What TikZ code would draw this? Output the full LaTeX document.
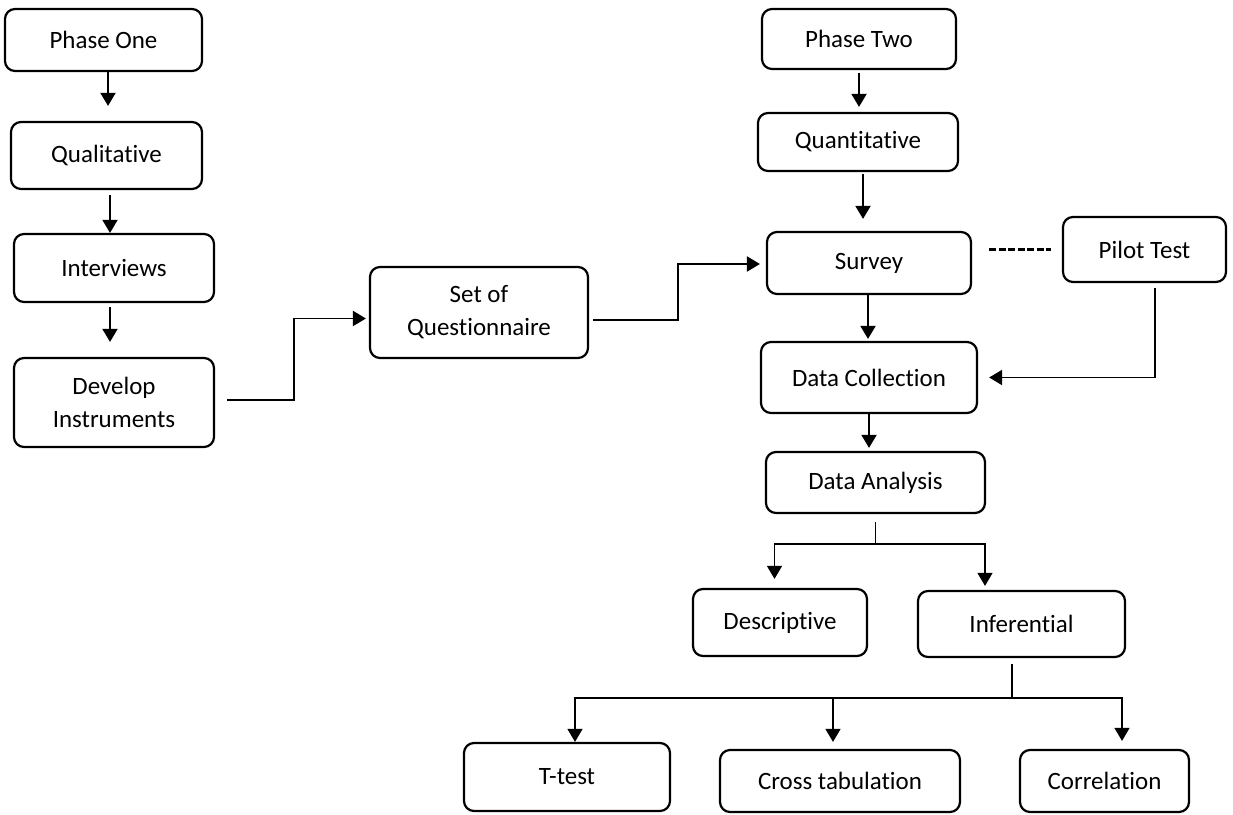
\documentclass[tikz,border=0pt]{standalone}
\usepackage{fontspec}
\setmainfont{Carlito}[Ligatures=NoCommon]
\usepackage{tikz}
\usetikzlibrary{arrows.meta}

\begin{document}
\begin{tikzpicture}[
		box/.style={draw, rounded corners=0.2cm, line width=1.25pt, align=center, inner sep=0pt, font=\fontsize{14.2}{18.8}\selectfont},
		arr/.style={line width=1.1pt, -{Triangle[length=0.26cm,width=0.3cm]}},
		thinarr/.style={arr, line width=0.7pt},
		thinline/.style={line width=0.7pt}
	]
				\useasboundingbox (0,0) rectangle (24.66,16.28);
				
				% Nodes, phase one
				\node[box, minimum width=3.94cm, minimum height=1.24cm] (ph1) at (2.07,15.48) {Phase One};
				\node[box, minimum width=3.82cm, minimum height=1.34cm] (ql) at (2.13,13.17) {Qualitative};
				\node[box, minimum width=4.00cm, minimum height=1.36cm] (iv) at (2.28,10.92) {Interviews};
				\node[box, minimum width=4.00cm, minimum height=1.78cm] (di) at (2.28,8.23) {Develop\\Instruments};
				\node[box, minimum width=4.36cm, minimum height=1.82cm] (sq) at (9.58,10.03) {Set of\\Questionnaire};
				
				% Nodes, phase two
				\node[box, minimum width=3.88cm, minimum height=1.20cm] (ph2) at (17.18,15.50) {Phase Two};
				\node[box, minimum width=4.00cm, minimum height=1.16cm] (qn) at (17.16,13.44) {Quantitative};
				\node[box, minimum width=4.08cm, minimum height=1.24cm] (sv) at (17.38,11.02) {Survey};
				\node[box, minimum width=3.26cm, minimum height=1.30cm] (pt) at (22.89,11.29) {Pilot Test};
				\node[box, minimum width=4.32cm, minimum height=1.42cm] (dc) at (17.38,8.73) {Data Collection};
				\node[box, minimum width=4.38cm, minimum height=1.22cm] (da) at (17.51,6.63) {Data Analysis};
				\node[box, minimum width=3.48cm, minimum height=1.34cm] (ds) at (15.60,3.83) {Descriptive};
				\node[box, minimum width=4.14cm, minimum height=1.32cm] (inf) at (20.43,3.80) {Inferential};
				\node[box, minimum width=4.12cm, minimum height=1.36cm] (tt) at (11.34,0.74) {T-test};
				\node[box, minimum width=4.80cm, minimum height=1.24cm] (ct) at (16.80,0.66) {Cross tabulation};
				\node[box, minimum width=3.38cm, minimum height=1.24cm] (cr) at (22.09,0.66) {Correlation};
				
				% Arrows, phase one
				\draw[arr] ([xshift=.09cm]ph1.south) -- ([xshift=.03cm,yshift=.3cm]ql.north);
				\draw[arr] ([xshift=.07cm,yshift=-.1cm]ql.south) -- ([xshift=-.08cm]iv.north);
				\draw[arr] ([xshift=-.08cm,yshift=-.08cm]iv.south) -- ([xshift=-.08cm,yshift=.3cm]di.north);
				\draw[arr] ([xshift=.24cm,yshift=.05cm]di.east) -- ++(1.34,0) |- ([xshift=-.06cm,yshift=-.12cm]sq.west);
				\draw[arr] ([xshift=.08cm,yshift=-.15cm]sq.east) -- ++(1.7,0) |- ([xshift=-.12cm,yshift=-.02cm]sv.west);
				
				% Arrows, phase two
				\draw[arr] ([yshift=-.06cm]ph2.south) -- ([xshift=.02cm,yshift=.1cm]qn.north);
				\draw[arr] ([xshift=.1cm,yshift=-.04cm]qn.south) -- ([xshift=-.12cm,yshift=.24cm]sv.north);
				\draw[arr] ([xshift=-.02cm]sv.south) -- ([xshift=-.02cm,yshift=.04cm]dc.north);
				\draw[line width=1.2pt, dash pattern=on 0.14cm off 0.05cm] ([xshift=.34cm]sv.east |- pt.west) -- ([xshift=-.22cm]pt.west);
				\draw[arr] ([xshift=.21cm,yshift=-.1cm]pt.south) |- ([xshift=.22cm]dc.east);
				\draw[arr] (dc.south) -- ([xshift=-.13cm,yshift=.06cm]da.north);
				
				% Branches
				\coordinate (s1) at ([yshift=-.6cm]da.south);
				\draw[thinline] ([yshift=-.16cm]da.south) -- (s1);
				\draw[thinarr] (s1) -| ([xshift=-.11cm,yshift=.18cm]ds.north);
				\draw[thinarr] (s1) -| ([xshift=-.73cm,yshift=.08cm]inf.north);
				
				\coordinate (s2) at ([xshift=-.19cm,yshift=-.8cm]inf.south);
				\draw[thinline] ([xshift=-.19cm,yshift=-.12cm]inf.south) -- (s2);
				\draw[thinarr] (s2) -| ([xshift=.16cm]tt.north);
				\draw[thinarr] (s2) -| ([xshift=.35cm,yshift=.16cm]cr.north);
				\draw[thinarr] ([xshift=-.14cm]ct.north |- s2) -- ([xshift=-.14cm,yshift=.14cm]ct.north);
\end{tikzpicture}
\end{document}
